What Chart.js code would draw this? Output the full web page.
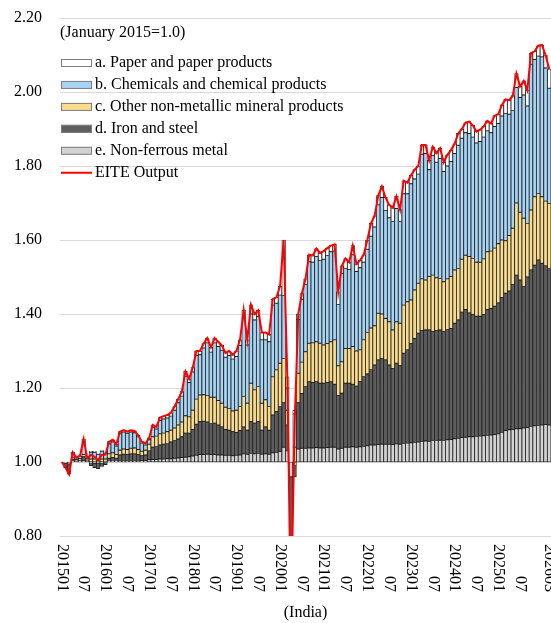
<!DOCTYPE html>
<html>
<head>
<meta charset="utf-8">
<script src="https://cdn.jsdelivr.net/npm/chart.js@4/dist/chart.umd.min.js"></script>
<style>
  html, body { margin: 0; padding: 0; background: #ffffff; }
  #wrap { width: 551px; height: 623px; }
</style>
</head>
<body>
<div id="wrap"><canvas id="chart" width="551" height="623"></canvas></div>
<script>
// Monthly categories, January 2015 to March 2026
const firstYear = 2015;
const monthCount = 135;
const months = [];
for (let k = 0; k < monthCount; k++) {
  const y = firstYear + Math.floor(k / 12);
  const m = (k % 12) + 1;
  months.push(String(y) + String(m).padStart(2, '0'));
}

// Contributions to the output index (January 2015 = 1.0), by industry
const nonFerrous = [
  0, -0.003, -0.005, 0.002, 0.001, 0.002, 0.003, 0.001, -0.002, -0.003, -0.003, -0.002,
  -0.001, 0.002, 0.002, 0.002, 0.004, 0.004, 0.004, 0.004, 0.004, 0.004, 0.003, 0.003,
  0.006, 0.007, 0.007, 0.008, 0.008, 0.009, 0.009, 0.010, 0.011, 0.012, 0.013, 0.014,
  0.016, 0.018, 0.020, 0.020, 0.021, 0.020, 0.020, 0.019, 0.019, 0.018, 0.018, 0.017,
  0.018, 0.019, 0.022, 0.021, 0.023, 0.022, 0.023, 0.021, 0.022, 0.021, 0.025, 0.026,
  0.028, 0.040, 0.030, -0.040, -0.010, 0.035, 0.037, 0.037, 0.038, 0.038, 0.039, 0.038,
  0.038, 0.039, 0.040, 0.040, 0.035, 0.037, 0.040, 0.040, 0.041, 0.040, 0.041, 0.042,
  0.044, 0.046, 0.046, 0.047, 0.048, 0.048, 0.048, 0.047, 0.049, 0.048, 0.050, 0.051,
  0.052, 0.053, 0.054, 0.056, 0.057, 0.056, 0.058, 0.058, 0.059, 0.058, 0.060, 0.061,
  0.063, 0.064, 0.066, 0.067, 0.068, 0.068, 0.069, 0.070, 0.071, 0.072, 0.073, 0.074,
  0.076, 0.080, 0.085, 0.087, 0.088, 0.090, 0.090, 0.092, 0.093, 0.096, 0.098, 0.099,
  0.100, 0.101, 0.100
];
const ironSteel = [
  0, -0.012, -0.020, 0.005, 0.002, 0.003, 0.011, 0.002, -0.008, -0.012, -0.015, -0.010,
  -0.006, 0.008, 0.010, 0.008, 0.015, 0.017, 0.016, 0.018, 0.018, 0.016, 0.014, 0.016,
  0.024, 0.033, 0.035, 0.038, 0.040, 0.041, 0.045, 0.048, 0.051, 0.056, 0.065, 0.064,
  0.072, 0.084, 0.089, 0.090, 0.087, 0.084, 0.085, 0.081, 0.076, 0.070, 0.068, 0.065,
  0.062, 0.066, 0.073, 0.065, 0.086, 0.083, 0.086, 0.065, 0.073, 0.065, 0.102, 0.110,
  0.122, 0.120, 0.070, -0.180, -0.030, 0.125, 0.148, 0.167, 0.179, 0.177, 0.178, 0.175,
  0.175, 0.176, 0.177, 0.170, 0.145, 0.149, 0.173, 0.173, 0.169, 0.165, 0.176, 0.189,
  0.194, 0.204, 0.216, 0.229, 0.232, 0.228, 0.214, 0.206, 0.218, 0.212, 0.244, 0.252,
  0.268, 0.281, 0.294, 0.299, 0.300, 0.301, 0.295, 0.297, 0.298, 0.295, 0.298, 0.300,
  0.312, 0.320, 0.339, 0.345, 0.335, 0.331, 0.325, 0.324, 0.328, 0.340, 0.342, 0.347,
  0.354, 0.365, 0.371, 0.375, 0.392, 0.415, 0.402, 0.382, 0.407, 0.423, 0.434, 0.447,
  0.437, 0.429, 0.423
];
const nonMetallic = [
  0, 0, -0.005, 0.004, 0.003, 0.004, 0.006, 0.002, 0.008, 0.008, 0.006, 0.008,
  0.008, 0.012, 0.013, 0.010, 0.013, 0.014, 0.014, 0.015, 0.016, 0.014, 0.012, 0.013,
  0.018, 0.028, 0.028, 0.030, 0.030, 0.032, 0.032, 0.034, 0.038, 0.040, 0.047, 0.044,
  0.052, 0.068, 0.072, 0.072, 0.072, 0.071, 0.070, 0.066, 0.064, 0.060, 0.059, 0.056,
  0.060, 0.065, 0.082, 0.073, 0.104, 0.090, 0.095, 0.073, 0.073, 0.064, 0.103, 0.113,
  0.117, 0.120, 0.040, -0.060, 0.040, 0.080, 0.085, 0.094, 0.104, 0.107, 0.108, 0.108,
  0.103, 0.105, 0.108, 0.120, 0.080, 0.085, 0.094, 0.094, 0.102, 0.095, 0.086, 0.099,
  0.112, 0.112, 0.106, 0.126, 0.120, 0.112, 0.117, 0.104, 0.112, 0.115, 0.130, 0.130,
  0.118, 0.131, 0.135, 0.140, 0.135, 0.144, 0.152, 0.143, 0.139, 0.134, 0.137, 0.140,
  0.144, 0.139, 0.143, 0.147, 0.152, 0.151, 0.146, 0.146, 0.150, 0.156, 0.155, 0.157,
  0.160, 0.155, 0.142, 0.150, 0.152, 0.195, 0.183, 0.185, 0.145, 0.162, 0.185, 0.180,
  0.180, 0.175, 0.176
];
const chemicals = [
  0, 0, -0.003, 0.013, 0.005, 0.007, 0.036, 0.004, 0.018, 0.018, 0.015, 0.020,
  0.016, 0.027, 0.029, 0.023, 0.045, 0.046, 0.043, 0.044, 0.041, 0.034, 0.022, 0.014,
  0.012, 0.026, 0.019, 0.036, 0.038, 0.037, 0.038, 0.048, 0.060, 0.070, 0.107, 0.093,
  0.103, 0.118, 0.109, 0.126, 0.142, 0.122, 0.147, 0.146, 0.143, 0.135, 0.143, 0.140,
  0.145, 0.165, 0.213, 0.157, 0.187, 0.189, 0.189, 0.171, 0.162, 0.175, 0.194, 0.180,
  0.184, 0.170, 0.060, -0.120, 0.090, 0.145, 0.170, 0.182, 0.220, 0.218, 0.230, 0.224,
  0.232, 0.238, 0.243, 0.240, 0.166, 0.239, 0.216, 0.213, 0.248, 0.215, 0.222, 0.210,
  0.225, 0.248, 0.267, 0.293, 0.315, 0.292, 0.281, 0.293, 0.306, 0.275, 0.301, 0.292,
  0.314, 0.300, 0.295, 0.337, 0.342, 0.289, 0.323, 0.312, 0.324, 0.298, 0.305, 0.311,
  0.315, 0.333, 0.327, 0.331, 0.333, 0.328, 0.322, 0.326, 0.329, 0.327, 0.320, 0.329,
  0.325, 0.335, 0.344, 0.328, 0.318, 0.312, 0.310, 0.333, 0.317, 0.394, 0.371, 0.371,
  0.378, 0.360, 0.311
];
const paper = [
  0, 0, 0, 0.002, 0.001, 0.001, 0.006, 0.001, 0.003, 0.003, 0.002, 0.003,
  0.003, 0.006, 0.006, 0.005, 0.005, 0.005, 0.005, 0.005, 0.005, 0.004, 0.004, 0.004,
  0.005, 0.006, 0.006, 0.008, 0.008, 0.008, 0.009, 0.010, 0.010, 0.012, 0.013, 0.010,
  0.012, 0.012, 0.010, 0.012, 0.013, 0.013, 0.013, 0.013, 0.013, 0.012, 0.012, 0.012,
  0.015, 0.015, 0.020, 0.014, 0.025, 0.016, 0.017, 0.020, 0.020, 0.020, 0.016, 0.016,
  0.024, 0.150, 0.030, -0.020, 0.010, 0.015, 0.015, 0.015, 0.019, 0.018, 0.022, 0.020,
  0.022, 0.020, 0.017, 0.018, 0.034, 0.020, 0.027, 0.020, 0.025, 0.020, 0.020, 0.020,
  0.025, 0.035, 0.030, 0.025, 0.030, 0.035, 0.035, 0.037, 0.033, 0.032, 0.035, 0.030,
  0.023, 0.025, 0.022, 0.025, 0.023, 0.025, 0.024, 0.025, 0.028, 0.025, 0.030, 0.031,
  0.026, 0.032, 0.025, 0.027, 0.032, 0.032, 0.031, 0.032, 0.029, 0.027, 0.025, 0.029,
  0.025, 0.030, 0.038, 0.038, 0.040, 0.038, 0.030, 0.038, 0.043, 0.030, 0.022, 0.028,
  0.032, 0.035, 0.052
];
// Total EITE output index
const eiteOutput = [
  1.000, 0.985, 0.967, 1.026, 1.012, 1.017, 1.062, 1.010, 1.019, 1.014, 1.005, 1.019,
  1.020, 1.055, 1.060, 1.048, 1.082, 1.086, 1.082, 1.086, 1.084, 1.072, 1.055, 1.050,
  1.065, 1.100, 1.095, 1.120, 1.124, 1.127, 1.133, 1.150, 1.170, 1.190, 1.245, 1.225,
  1.255, 1.300, 1.300, 1.320, 1.335, 1.310, 1.335, 1.325, 1.315, 1.295, 1.300, 1.290,
  1.300, 1.330, 1.410, 1.330, 1.425, 1.400, 1.410, 1.350, 1.350, 1.345, 1.440, 1.445,
  1.475, 1.600, 1.230, 0.580, 1.100, 1.400, 1.455, 1.495, 1.560, 1.558, 1.577, 1.565,
  1.570, 1.578, 1.585, 1.588, 1.460, 1.530, 1.550, 1.540, 1.585, 1.535, 1.545, 1.560,
  1.600, 1.645, 1.665, 1.720, 1.745, 1.715, 1.695, 1.687, 1.718, 1.682, 1.760, 1.755,
  1.775, 1.790, 1.800, 1.857, 1.857, 1.815, 1.852, 1.835, 1.848, 1.810, 1.830, 1.843,
  1.860, 1.888, 1.900, 1.917, 1.920, 1.910, 1.893, 1.898, 1.907, 1.922, 1.915, 1.936,
  1.940, 1.965, 1.980, 1.978, 1.990, 2.050, 2.015, 2.030, 2.005, 2.105, 2.110, 2.125,
  2.127, 2.100, 2.062
];

const yTicks = [0.80, 1.00, 1.20, 1.40, 1.60, 1.80, 2.00, 2.20];
const baseTitle = '(January 2015=1.0)';
const axisTitle = '(India)';
const lineLabel = 'EITE Output';

const FONT = '"Liberation Serif", "Times New Roman", serif';
const EDGE = '#1e1e1e';

// Stack order from the baseline upward (legend lists it top-down)
const series = [
  { label: 'e. Non-ferrous metal', data: nonFerrous, fill: '#d3d3d3' },
  { label: 'd. Iron and steel', data: ironSteel, fill: '#5e5e5e' },
  { label: 'c. Other non-metallic mineral products', data: nonMetallic, fill: '#f9db8e' },
  { label: 'b. Chemicals and chemical products', data: chemicals, fill: '#a7d3f4' },
  { label: 'a. Paper and paper products', data: paper, fill: '#ffffff' }
];

// Segments start at the 1.0 baseline: gains stack upward, losses downward
const upper = months.map(() => 1);
const lower = months.map(() => 1);
const barSets = series.map(s => ({
  type: 'bar',
  label: s.label,
  data: s.data.map((v, i) => {
    if (v === 0) return null;
    if (v > 0) { const lo = upper[i]; upper[i] += v; return [lo, upper[i]]; }
    const hi = lower[i]; lower[i] += v; return [lower[i], hi];
  }),
  backgroundColor: s.fill,
  borderColor: EDGE,
  borderWidth: 0.8,
  borderSkipped: false,
  grouped: false,
  barPercentage: 1.0,
  categoryPercentage: 1.0,
  order: 1
}));

const lineSet = {
  type: 'line',
  label: lineLabel,
  data: eiteOutput,
  borderColor: '#ff0000',
  borderWidth: 2,
  pointRadius: 0,
  tension: 0,
  fill: false,
  order: 0
};

function tickText(i) {
  if (i === months.length - 1) return months[i];
  if (i % 6 !== 0 || i >= months.length - 6) return null;
  return i % 12 === 0 ? months[i] : months[i].slice(4);
}

const annotations = {
  id: 'annotations',
  afterDraw(chart) {
    const { ctx, chartArea } = chart;
    const x = chart.scales.x;
    ctx.save();
    ctx.fillStyle = '#000000';
    ctx.font = '16px ' + FONT;

    // vertical month labels, reading top to bottom
    months.forEach((m, i) => {
      const text = tickText(i);
      if (!text) return;
      ctx.save();
      ctx.translate(x.getPixelForValue(i), 592);
      ctx.rotate(Math.PI / 2);
      ctx.textAlign = 'right';
      ctx.textBaseline = 'middle';
      ctx.fillText(text, 0, 0);
      ctx.restore();
    });

    ctx.textAlign = 'center';
    ctx.textBaseline = 'middle';
    ctx.fillText(axisTitle, (chartArea.left + chartArea.right) / 2, 613);

    // legend inside the plot
    ctx.textAlign = 'left';
    ctx.fillText(baseTitle, chartArea.left, chartArea.top + 15);
    const rows = series.slice().reverse();
    const rowGap = 21.95;
    const y0 = chartArea.top + 45;
    rows.forEach((s, k) => {
      const cy = y0 + k * rowGap;
      ctx.fillStyle = s.fill;
      ctx.fillRect(61, cy - 4, 31, 8);
      ctx.strokeStyle = '#7f7f7f';
      ctx.lineWidth = 1;
      ctx.strokeRect(61.5, cy - 3.5, 30, 7);
      ctx.fillStyle = '#000000';
      ctx.fillText(s.label, 95, cy);
    });
    const ly = y0 + rows.length * rowGap;
    ctx.strokeStyle = '#ff0000';
    ctx.lineWidth = 2;
    ctx.beginPath();
    ctx.moveTo(61, ly);
    ctx.lineTo(92, ly);
    ctx.stroke();
    ctx.fillText(lineLabel, 95, ly);
    ctx.restore();
  }
};

new Chart(document.getElementById('chart'), {
  data: { labels: months, datasets: [lineSet, ...barSets] },
  options: {
    responsive: false,
    animation: false,
    devicePixelRatio: 1,
    layout: { padding: { top: 18, right: 0, bottom: 0, left: 0 } },
    plugins: { legend: { display: false }, tooltip: { enabled: false } },
    scales: {
      x: {
        type: 'category',
        offset: true,
        grid: { display: false },
        border: { display: false },
        ticks: { display: false },
        afterFit: s => { s.height = 87; }
      },
      y: {
        min: 0.8,
        max: 2.2,
        afterBuildTicks: s => { s.ticks = yTicks.map(v => ({ value: v })); },
        ticks: {
          callback: v => Number(v).toFixed(2),
          font: { family: FONT, size: 16 },
          color: '#000000',
          padding: 18
        },
        grid: { color: '#d9d9d9', lineWidth: 1, drawTicks: false },
        border: { display: false },
        afterFit: s => { s.width = 60; s.paddingTop = 0; s.paddingBottom = 0; }
      }
    }
  },
  plugins: [annotations]
});
</script>
</body>
</html>
